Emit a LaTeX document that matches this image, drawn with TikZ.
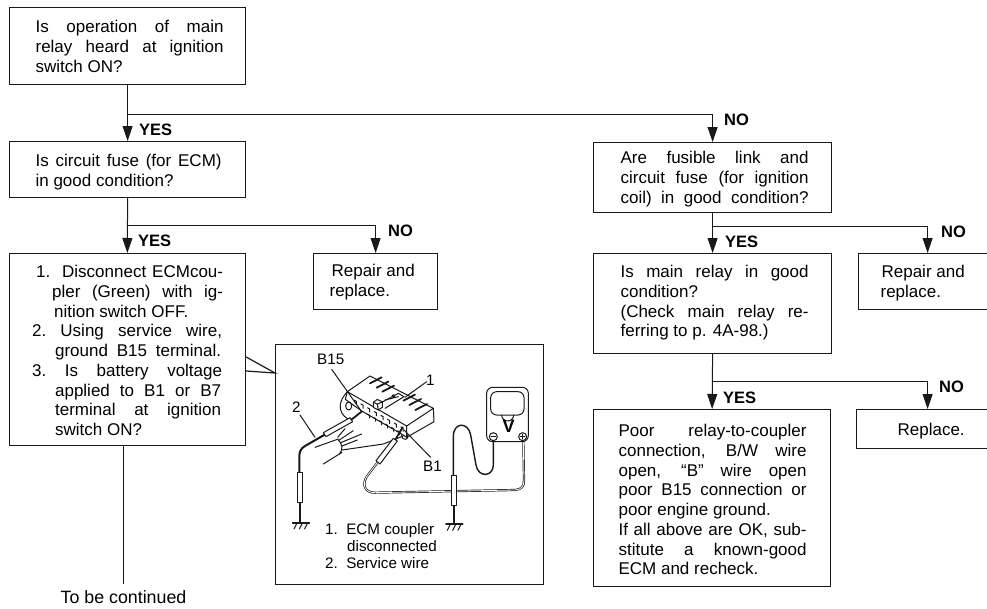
\documentclass[tikz,border=0pt]{standalone}
\usepackage{fontspec}
\setmainfont{Liberation Sans}
\usetikzlibrary{arrows.meta}
\newcommand\Lj[3]{\hbox{\kern#1pt\rule{0pt}{13pt}\hbox to #2pt{#3}}}
\newcommand\Lp[2]{\hbox{\kern#1pt\rule{0pt}{13pt}#2}}
\newcommand\flowbox[7]{\node[fbox,anchor=north west] (#1) at (#2,#3) {\parbox[c][#5pt][t]{#4pt}{\baselineskip=19.75pt\lineskiplimit=-100pt\hrule height 0pt width #4pt\vspace*{\dimexpr#6pt-13pt\relax}#7}};}
\tikzset{
  every node/.style={inner sep=0pt,font=\fontsize{17}{19.75}\selectfont},
  fbox/.style={draw=black!90,line width=1.2pt},
  link/.style={draw=black!90,line width=1pt},
  arr/.style={link,-{Triangle[length=15pt,width=10pt]}},
  tag/.style={anchor=base west,font=\fontsize{16.5}{19.75}\selectfont\bfseries},
  capt/.style={anchor=base west,font=\fontsize{15.2}{17}\selectfont},
  art/.style={line width=1pt,black!90,line join=round,line cap=round},
  heavy/.style={line width=1.8pt,black!90,line cap=round},
  cord/.style={draw=black!90,double=white,double distance=.8pt,line width=.7pt}
}
\begin{document}
\begin{tikzpicture}[x=1pt,y=-1pt]
\useasboundingbox (0,0) rectangle (987,608);
\flowbox{q1}{9}{7}{236}{77}{25}{\Lj{26}{188}{Is operation of main}\Lj{26}{188}{relay heard at ignition}\Lp{26}{switch ON?}}
\flowbox{q2}{9}{141}{236}{56}{25}{\Lj{26}{186}{Is circuit fuse (for ECM)}\Lp{26}{in good condition?}}
\flowbox{q3}{8.5}{253}{236.5}{192}{24}{%
\Lj{27}{187}{1.\ \ Disconnect ECMcou-}\Lj{43}{171}{pler (Green) with ig-}\Lp{45}{nition switch OFF.}%
\Lj{23}{190}{2.\ Using service wire,}\Lj{46}{166}{ground B15 terminal.}%
\Lj{23}{190}{3.\ Is battery voltage}\Lj{46}{166}{applied to B1 or B7}\Lj{46}{166}{terminal at ignition}\Lp{46}{switch ON?}}
\flowbox{r1}{313}{253}{124}{56}{23}{\Lp{18}{Repair and}\Lp{16}{replace.}}
\flowbox{qa}{593}{142}{238}{70}{21}{\Lj{27}{188}{Are fusible link and}\Lj{27}{188}{circuit fuse (for ignition}\Lj{27}{188}{coil) in good condition?}}
\flowbox{qb}{593}{253}{238}{100}{24}{\Lj{27}{188}{Is main relay in good}\Lp{27}{condition?}\Lj{27}{188}{(Check main relay re-}\Lp{27}{ferring to p. 4A-98.)}}
\flowbox{r2}{858}{253}{138}{56}{24}{\Lp{23}{Repair and}\Lp{22}{replace.}}
\flowbox{qc}{593}{409}{237}{177}{27}{\Lj{25}{188}{Poor relay-to-coupler}\Lj{25}{188}{connection, B/W wire}\Lj{25}{188}{open, “B” wire open}\Lj{25}{188}{poor B15 connection or}\Lp{25}{poor engine ground.}\Lj{25}{188}{If all above are OK, sub-}\Lj{25}{188}{stitute a known-good}\Lp{25}{ECM and recheck.}}
\flowbox{r3}{856}{409}{142}{39}{26}{\Lp{41}{Replace.}}
\node[fbox,anchor=north west,minimum width=268pt,minimum height=240pt] (inset) at (275,344) {};
\node[anchor=base,font=\fontsize{17.8}{20}\selectfont] (cont) at (123.5,603) {To be continued};
\coordinate (ya) at (0,114);
\coordinate (yb) at (0,225);
\coordinate (yc) at (0,226);
\coordinate (yd) at (0,381);
\coordinate (j1) at (q1.south |- ya);
\coordinate (j2) at (q2.south |- yb);
\coordinate (j3) at (qa.south |- yc);
\coordinate (j4) at (qb.south |- yd);
\draw[arr] (q1.south) -- (q2.north);
\draw[arr] (j1) -| (qa.north);
\draw[arr] (q2.south) -- (q3.north);
\draw[arr] (j2) -| (r1.north);
\draw[arr] (qa.south) -- (qb.north);
\draw[arr] (j3) -| (r2.north);
\draw[arr] (qb.south) -- (qc.north);
\draw[arr] (j4) -| (r3.north);
\draw[link] (q3.south -| cont.north) -- ([yshift=6pt]cont.north);
\coordinate (pa) at (0,357); \coordinate (pb) at (0,373); \coordinate (pc) at (0,371);
\draw[fbox,line join=miter] (q3.east |- pa) -- (inset.west |- pb) -- (q3.east |- pc);
\node[tag] (y1) at (139,135) {YES};
\node[tag] (y2) at (138,246) {YES};
\node[tag] (y3) at (725,247) {YES};
\node[tag] (y4) at (723,403) {YES};
\node[tag] (n1) at (724,125) {NO};
\node[tag] (n2) at (388,236) {NO};
\node[tag] (n3) at (941,237) {NO};
\node[tag] (n4) at (939,392) {NO};
\node[capt] (lb15) at (317,364) {B15};
\node[capt] (l1) at (426,385) {1};
\node[capt] (l2) at (292,412) {2};
\node[capt] (lb1) at (423,471) {B1};
\node[capt] (c1) at (325,534) {1.\ \ ECM coupler};
\node[capt] (c2) at (347,551) {disconnected};
\node[capt] (c3) at (325,568) {2.\ \ Service wire};
\begin{scope}[shift={(270,340)},x=.33333pt,y=-.33333pt]
 % coupler
 \draw[art] (232,155) -- (300,108) -- (490,205) -- (410,258) -- cycle;
 \draw[art] (490,205) -- (492,245) -- (410,292) -- (410,258);
 \draw[art] (232,155) -- (226,178) -- (275,213);
 \draw[art] (275,213) -- (400,285) -- (410,292);
 \foreach \a/\b in {300/130,320/143,337/155,400/182,418/195,436/210}
   \draw[heavy] (\a,\b) -- ++(35,-18);
 \foreach \t in {0,...,7} \draw[line width=1pt,black!90] (252+\t*20,180+\t*11.5) -- ++(7,4) -- ++(0,10);
 \foreach \t in {0,...,5} \draw[line width=1pt,black!90] (292+\t*18,222+\t*10) -- ++(7,4) -- ++(0,9);
 % latch
 \draw[art,fill=white] (310,187) -- (322,178) -- (337,186) -- (337,202) -- (325,210) -- (310,202) -- cycle;
 \draw[art] (322,192) -- (337,186) (322,192) -- (325,210) (322,192) -- (310,187);
 \draw[art] (337,186) -- (385,160) -- (402,170) -- (345,205);
 \draw[art] (345,180) -- (385,170) (370,168) circle (4);
 % leaders
 \draw[art] (470,125) -- (405,172);
 \draw[art] (185,88) -- (275,215);
 \draw[art] (402,270) -- (482,352);
 \draw[art] (90,225) -- (135,292);
 % boot
 \draw[art] (232,155) .. controls (208,180) and (198,215) .. (235,238);
 \draw[art] (236,198) ellipse (9 and 12);
 % cable
 \draw[art] (135,322) -- (205,297);
 \draw[art] (160,372) -- (216,337);
 \draw[art] (203,298) .. controls (218,310) and (220,330) .. (208,342);
 \draw[art] (212,308) -- (275,282) (208,300) -- (250,272) (203,292) -- (225,266) (216,318) -- (262,300);
 \draw[art] (216,330) -- (340,312) -- (400,288);
 \draw[art] (395,285) .. controls (395,305) and (420,300) .. (412,285);
 % service wire and probe
 \draw[art,fill=white] (160,278) -- (240,233) -- (248,245) -- (168,290) -- cycle;
 \draw[heavy] (244,239) -- (276,214);
 \draw[line width=2pt,black!90] (164,284) -- (105,318) .. controls (92,326) and (88,335) .. (88,350) -- (88,397);
 \draw[art,fill=white] (82,397) rectangle (98,488);
 \draw[heavy] (90,488) -- (90,546);
 \draw[heavy] (68,548) -- (118,548);
 \foreach \g in {72,88,104} \draw[art] (\g,567) -- (\g+8,551);
 % test probe
 \draw[art,fill=white] (318,362) -- (370,295) -- (382,303) -- (330,372) -- cycle;
 \draw[heavy] (376,299) -- (398,262);
 \draw[cord] (322,368) -- (290,410) .. controls (275,435) and (285,458) .. (315,458) -- (735,450) .. controls (755,448) and (762,440) .. (762,420) -- (760,305);
 % negative lead
 \draw[line width=1.4pt,black!90] (670,305) -- (670,375) .. controls (670,410) and (625,415) .. (618,375) -- (602,285) .. controls (595,245) and (550,245) .. (550,290) -- (550,405);
 \draw[art,fill=white] (543,405) rectangle (560,497);
 \draw[heavy] (552,497) -- (552,550);
 \draw[heavy] (528,552) -- (578,552);
 \foreach \g in {532,548,564} \draw[art] (\g,571) -- (\g+8,555);
 % meter
 \draw[art,line width=1pt,fill=white,rounded corners=6pt] (650,142) rectangle (775,305);
 \draw[art,rounded corners=6pt] (662,155) rectangle (762,225);
 \draw[art] (695,225) arc (180:0:18);
 \draw[art] (670,290) circle (12) (758,290) circle (12);
 \draw[art] (663,290) -- (677,290) (751,290) -- (765,290) (758,283) -- (758,297);
\end{scope}
\node[anchor=base,font=\fontsize{18}{19}\selectfont\bfseries] (volt) at (508.5,432) {V};
\end{tikzpicture}
\end{document}
